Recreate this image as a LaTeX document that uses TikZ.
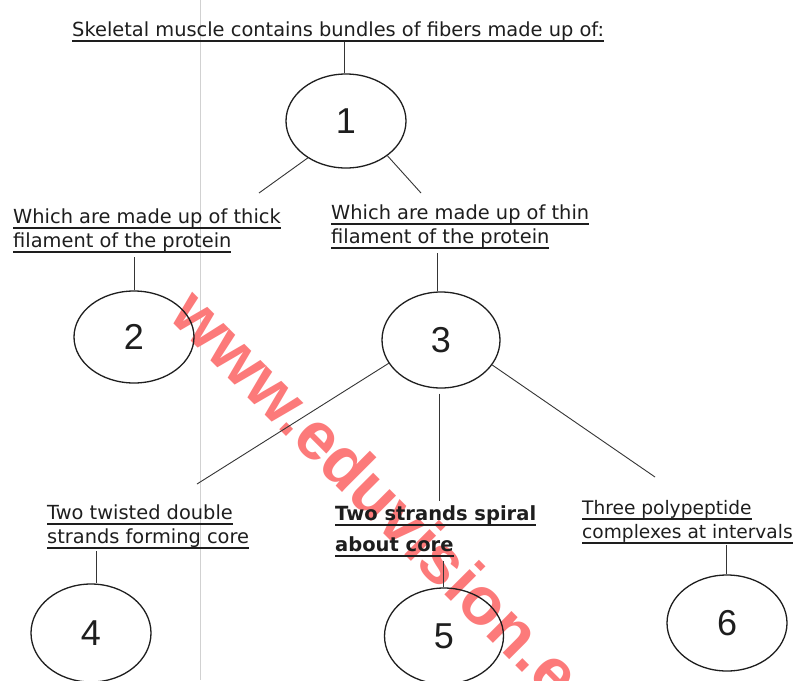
\documentclass[tikz,border=0pt]{standalone}
\usepackage{fontspec}
\setmainfont{DejaVu Sans}
\newfontfamily\numfamily{Liberation Sans}
\newfontfamily\wmfamily{Liberation Sans}
\usetikzlibrary{shapes.geometric}
\definecolor{wmred}{RGB}{252,122,122}
\definecolor{ink}{RGB}{30,30,30}
\newcommand\myul[1]{\setbox0=\hbox{#1}\rlap{\rule[-5.6pt]{\wd0}{1.8pt}}\box0}
\tikzset{
  bubble/.style={draw=ink, line width=1.3pt, ellipse, inner sep=0pt,
    minimum width=120pt, minimum height=94pt,
    font=\numfamily\fontsize{36}{40}\selectfont, text=ink},
  lbl/.style={anchor=base west, align=left, inner sep=0pt, text=ink,
    font=\fontsize{19.4}{24}\selectfont},
  link/.style={draw=ink!90, line width=0.9pt},
  wm/.style={anchor=base west, inner sep=0pt, text=wmred,
    font=\wmfamily\bfseries\fontsize{67.5}{67.5}\selectfont},
  scanline/.style={draw=black!18, line width=0.6pt}
}
\begin{document}
\begin{tikzpicture}[x=1pt,y=-1pt]
\fill[white] (0,0) rectangle (799,680);
\useasboundingbox (0,0) rectangle (799,680);
% scan artefact
\draw[scanline] (200,0) -- (200,680);
% watermark
\begin{scope}
\clip (0,0) rectangle (799,680);
\node[wm, rotate=-45] (wm) at (167,317) {www.eduvision.e};
\end{scope}
% labels (anchor = baseline of the last line)
\node[lbl] (title) at (72,36.5) {\myul{Skeletal muscle contains bundles of fibers made up of:}};
\node[lbl] (L) at (13,247) {\myul{Which are made up of thick}\\\myul{filament of the protein}};
\node[lbl] (R) at (331,243) {\myul{Which are made up of thin}\\\myul{filament of the protein}};
\node[lbl] (T4) at (47,543) {\myul{Two twisted double}\\\myul{strands forming core}};
\node[lbl, font=\bfseries\fontsize{19.5}{31}\selectfont] (T5) at (335,551) {\myul{Two strands spiral}\\\myul{about core}};
\node[lbl, font=\fontsize{18.6}{24}\selectfont] (T6) at (582,538) {\myul{Three polypeptide}\\\myul{complexes at intervals}};
% bubbles
\node[bubble] (e1) at (346,121) {1};
\node[bubble, minimum height=92pt] (e2) at (134,337) {2};
\node[bubble, minimum width=118pt, minimum height=96pt] (e3) at (441,340) {3};
\node[bubble, minimum height=98pt] (e4) at (91,633) {4};
\node[bubble, minimum width=119pt, minimum height=96pt] (e5) at (444,636) {5};
\node[bubble, minimum height=96pt] (e6) at (727,623) {6};
% free ends
\coordinate (cL) at (259,193);
\coordinate (cR) at (421,193);
\coordinate (c4) at (197,484);
\coordinate (c6) at (655,477);
% connectors
\draw[link] ([xshift=-2pt]e1.north) -- ([xshift=-2pt]e1.north |- title.south);
\draw[link] (e1.224) -- (cL);
\draw[link] (e1.320) -- (cR);
\draw[link, shorten >=4pt] (e2.north) -- (e2.north |- L.south);
\draw[link, shorten >=4pt] ([xshift=-4pt]e3.north) -- ([xshift=-4pt]e3.north |- R.south);
\draw[link] (e3.204) -- (c4);
\draw[link, shorten <=5pt, shorten >=4pt] ([xshift=-2pt]e3.south) -- ([xshift=-2pt]e3.south |- T5.north);
\draw[link] (e3.334) -- (c6);
\draw[link, shorten >=2pt] ([xshift=5pt]e4.north) -- ([xshift=5pt]e4.north |- T4.south);
\draw[link, shorten >=4pt] ([xshift=-1pt]e5.north) -- ([xshift=-1pt]e5.north |- T5.south);
\draw[link, shorten >=1pt] ([xshift=-1pt]e6.north) -- ([xshift=-1pt]e6.north |- T6.south);
\end{tikzpicture}
\end{document}
